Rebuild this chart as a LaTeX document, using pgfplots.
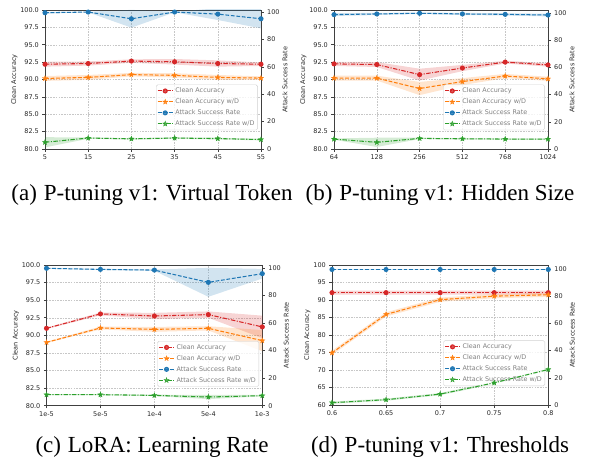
\documentclass[border=0pt]{standalone}
\usepackage{fontspec}
\setmainfont{DejaVu Sans}
\newfontfamily\capfont{Liberation Serif}
\usepackage{pgfplots}
\pgfplotsset{compat=1.18}
\usepackage{pgfplotstable}
\usepgfplotslibrary{fillbetween}

\definecolor{tred}{HTML}{D62728}
\definecolor{torange}{HTML}{FF7F0E}
\definecolor{tblue}{HTML}{1F77B4}
\definecolor{tgreen}{HTML}{2CA02C}

% filled star, like matplotlib's '*'
\pgfdeclareplotmark{fstar}{%
  \pgfpathmoveto{\pgfpointpolar{90}{\pgfplotmarksize}}%
  \pgfpathlineto{\pgfpointpolar{126}{0.42\pgfplotmarksize}}%
  \pgfpathlineto{\pgfpointpolar{162}{\pgfplotmarksize}}%
  \pgfpathlineto{\pgfpointpolar{198}{0.42\pgfplotmarksize}}%
  \pgfpathlineto{\pgfpointpolar{234}{\pgfplotmarksize}}%
  \pgfpathlineto{\pgfpointpolar{270}{0.42\pgfplotmarksize}}%
  \pgfpathlineto{\pgfpointpolar{306}{\pgfplotmarksize}}%
  \pgfpathlineto{\pgfpointpolar{342}{0.42\pgfplotmarksize}}%
  \pgfpathlineto{\pgfpointpolar{18}{\pgfplotmarksize}}%
  \pgfpathlineto{\pgfpointpolar{54}{0.42\pgfplotmarksize}}%
  \pgfpathclose\pgfusepathqfillstroke}

% x, clean acc (mean/lo/hi), clean acc w/D, ASR, ASR w/D
\pgfplotstableread{
x ca calo cahi cd cdlo cdhi as aslo ashi ad adlo adhi
5 92.2 91.85 92.55 90.15 89.8 90.5 99.5 98.8 100.2 4.9 1.2 8.6
15 92.3 92.0 92.6 90.3 89.95 90.65 100.0 99.8 100.2 8.0 7.5 8.5
25 92.65 92.4 92.9 90.7 90.45 90.95 95.1 88.6 101.6 7.4 6.9 7.9
35 92.55 92.15 92.95 90.6 90.3 90.9 100.0 99.8 100.2 8.0 7.5 8.5
45 92.3 91.85 92.75 90.3 89.95 90.65 98.5 94.2 102.8 7.6 7.0 8.2
55 92.2 91.95 92.45 90.2 89.95 90.45 95.1 88.1 102.1 6.9 6.3 7.5
}\tabA
\pgfplotstableread{
x ca calo cahi cd cdlo cdhi as aslo ashi ad adlo adhi
0 92.25 91.95 92.55 90.2 89.85 90.55 98.8 97.8 99.8 7.3 6.8 7.8
1 92.15 91.8 92.5 90.2 89.85 90.55 99.3 98.5 100.1 4.9 1.5 8.3
2 90.7 89.85 91.55 88.7 87.75 89.65 99.8 99.3 100.3 7.8 7.3 8.3
3 91.65 91.2 92.1 89.7 89.2 90.2 99.3 98.5 100.1 7.5 7.0 8.0
4 92.5 92.3 92.7 90.5 90.2 90.8 99.0 98.2 99.8 7.3 6.8 7.8
5 92.1 91.85 92.35 90.1 89.8 90.4 98.5 97.5 99.5 7.3 6.8 7.8
}\tabB
\pgfplotstableread{
x ca calo cahi cd cdlo cdhi as aslo ashi ad adlo adhi
0 91.0 90.9 91.1 89.0 88.9 89.1 99.8 99.5 100.1 8.0 7.6 8.4
1 93.05 92.85 93.25 91.05 90.85 91.25 99.0 98.6 99.4 8.0 7.6 8.4
2 92.75 92.3 93.2 90.85 90.5 91.2 98.5 98.0 99.0 7.5 7.0 8.0
3 92.95 92.5 93.4 91.0 90.7 91.3 89.6 79.1 100.1 6.3 4.8 7.8
4 91.2 89.6 92.8 89.25 87.75 90.75 95.9 92.4 99.4 7.3 6.8 7.8
}\tabC
\pgfplotstableread{
x ca calo cahi cd cdlo cdhi as aslo ashi ad adlo adhi
0.6 92.1 91.55 92.65 74.9 74.3 75.5 99.6 99.3 99.9 1.7 0.9 2.5
0.65 92.1 91.55 92.65 85.9 85.3 86.5 99.6 99.3 99.9 3.9 3.1 4.7
0.7 92.1 91.55 92.65 90.1 89.5 90.7 99.6 99.3 99.9 8.0 7.2 8.8
0.75 92.1 91.55 92.65 91.1 90.5 91.7 99.6 99.3 99.9 16.3 15.5 17.1
0.8 92.1 91.55 92.65 91.5 90.9 92.1 99.6 99.3 99.9 26.1 25.3 26.9
}\tabD

\newcommand{\band}[5]{%
  \addplot[draw=none, name path=#5h, forget plot] table[x=x, y=#3] {#1};
  \addplot[draw=none, name path=#5l, forget plot] table[x=x, y=#2] {#1};
  \addplot[fill=#4, fill opacity=0.2, draw=none, forget plot] fill between[of=#5h and #5l];
}

\pgfplotsset{
  dashdot/.style={dash pattern=on 4.4pt off 1.5pt on 1.1pt off 1.5pt},
  dashd/.style={dash pattern=on 3.8pt off 1.7pt},
  sCA/.style={tred, line width=1.05pt, dashdot, mark=*, mark size=2pt, mark options={solid}},
  sCD/.style={torange, line width=1.05pt, dashd, mark=fstar, mark size=2.7pt, mark options={solid, line width=0.3pt}},
  sAS/.style={tblue, line width=1.05pt, dashd, mark=*, mark size=2pt, mark options={solid}},
  sAD/.style={tgreen, line width=1.05pt, dashdot, mark=fstar, mark size=2.7pt, mark options={solid, line width=0.3pt}},
  common/.style={
    scale only axis, enlargelimits=false,
    tick label style={font=\fontsize{6.5}{7.5}\selectfont, text=black!85},
    label style={font=\fontsize{6.5}{7.5}\selectfont, text=black!85},
    ylabel shift=-4pt,
    tick align=outside, major tick length=2.6pt,
    tick style={black!75, line width=0.55pt},
    axis line style={black!75, line width=0.7pt},
    /pgf/number format/assume math mode=true,
    anchor=south west,
  },
  leftax/.style={
    common, xtick pos=left, ytick pos=left,
    grid=major, grid style={black!22, dash pattern=on 1.6pt off 1.1pt, line width=0.45pt},
    ylabel={Clean Accuracy},
    legend cell align=left,
    legend style={at={(0.985,0.135)}, anchor=south east,
      draw=black!18, rounded corners=1.5pt, fill=white, fill opacity=0.8, text opacity=1,
      text=black!50, font=\fontsize{6.4}{7.5}\selectfont,
      inner sep=1pt, row sep=0.6pt},
    legend image code/.code={%
      \draw[mark repeat=2, mark phase=2] plot coordinates {(0pt,0pt) (7.5pt,0pt) (15pt,0pt)};},
  },
  rightax/.style={
    common, axis x line=none, axis y line*=right,
    ymin=0, ytick={0,20,...,100},
    ylabel={Attack Success Rate},
  },
  pctleft/.style={ymin=80, ymax=100, ytick={80,82.5,...,100},
    yticklabel style={/pgf/number format/.cd, fixed, fixed zerofill, precision=1}},
}

\begin{document}
\begin{tikzpicture}

% (a) virtual tokens
\begin{axis}[leftax, pctleft, at={(45pt,323pt)}, width=216pt, height=139pt,
  xmin=5, xmax=55, xtick={5,15,...,55}]
  \band{\tabA}{calo}{cahi}{tred}{aa}
  \band{\tabA}{cdlo}{cdhi}{torange}{ab}
  \addplot[sCA] table[x=x, y=ca] {\tabA};
  \addplot[sCD] table[x=x, y=cd] {\tabA};
  \addlegendimage{sAS}
  \addlegendimage{sAD}
  \legend{Clean Accuracy, Clean Accuracy w/D, Attack Success Rate, Attack Success Rate w/D}
\end{axis}
\begin{axis}[rightax, at={(45pt,323pt)}, width=216pt, height=139pt,
  xmin=5, xmax=55, ymax=101.5]
  \band{\tabA}{aslo}{ashi}{tblue}{ac}
  \band{\tabA}{adlo}{adhi}{tgreen}{ad}
  \addplot[sAS] table[x=x, y=as] {\tabA};
  \addplot[sAD] table[x=x, y=ad] {\tabA};
\end{axis}

% (b) hidden size
\begin{axis}[leftax, pctleft, at={(334pt,323pt)}, width=214pt, height=139pt,
  xmin=0, xmax=5, xtick={0,...,5}, xticklabels={64,128,256,512,768,1024}]
  \band{\tabB}{calo}{cahi}{tred}{ba}
  \band{\tabB}{cdlo}{cdhi}{torange}{bb}
  \addplot[sCA] table[x=x, y=ca] {\tabB};
  \addplot[sCD] table[x=x, y=cd] {\tabB};
  \addlegendimage{sAS}
  \addlegendimage{sAD}
  \legend{Clean Accuracy, Clean Accuracy w/D, Attack Success Rate, Attack Success Rate w/D}
\end{axis}
\begin{axis}[rightax, at={(334pt,323pt)}, width=214pt, height=139pt,
  xmin=0, xmax=5, ymax=102.2]
  \band{\tabB}{aslo}{ashi}{tblue}{bc}
  \band{\tabB}{adlo}{adhi}{tgreen}{bd}
  \addplot[sAS] table[x=x, y=as] {\tabB};
  \addplot[sAD] table[x=x, y=ad] {\tabB};
\end{axis}

% (c) learning rate
\begin{axis}[leftax, pctleft, at={(46.5pt,66.3pt)}, width=215.8pt, height=140.7pt,
  xmin=0, xmax=4, xtick={0,...,4}, xticklabels={1e-5,5e-5,1e-4,5e-4,1e-3}]
  \band{\tabC}{calo}{cahi}{tred}{ca}
  \band{\tabC}{cdlo}{cdhi}{torange}{cb}
  \addplot[sCA] table[x=x, y=ca] {\tabC};
  \addplot[sCD] table[x=x, y=cd] {\tabC};
  \addlegendimage{sAS}
  \addlegendimage{sAD}
  \legend{Clean Accuracy, Clean Accuracy w/D, Attack Success Rate, Attack Success Rate w/D}
\end{axis}
\begin{axis}[rightax, at={(46.5pt,66.3pt)}, width=215.8pt, height=140.7pt,
  xmin=0, xmax=4, ymax=102.2]
  \band{\tabC}{aslo}{ashi}{tblue}{cc}
  \band{\tabC}{adlo}{adhi}{tgreen}{cd}
  \addplot[sAS] table[x=x, y=as] {\tabC};
  \addplot[sAD] table[x=x, y=ad] {\tabC};
\end{axis}

% (d) thresholds
\begin{axis}[leftax, at={(332pt,67pt)}, width=216.3pt, height=140pt,
  ymin=60, ymax=100, ytick={60,65,...,100},
  xmin=0.6, xmax=0.8, xtick={0.6,0.65,0.7,0.75,0.8}, xticklabels={0.6,0.65,0.7,0.75,0.8}]
  \band{\tabD}{calo}{cahi}{tred}{da}
  \band{\tabD}{cdlo}{cdhi}{torange}{db}
  \addplot[sCA] table[x=x, y=ca] {\tabD};
  \addplot[sCD] table[x=x, y=cd] {\tabD};
  \addlegendimage{sAS}
  \addlegendimage{sAD}
  \legend{Clean Accuracy, Clean Accuracy w/D, Attack Success Rate, Attack Success Rate w/D}
\end{axis}
\begin{axis}[rightax, at={(332pt,67pt)}, width=216.3pt, height=140pt,
  xmin=0.6, xmax=0.8, ymax=102.9]
  \band{\tabD}{aslo}{ashi}{tblue}{dc}
  \band{\tabD}{adlo}{adhi}{tgreen}{dd}
  \addplot[sAS] table[x=x, y=as] {\tabD};
  \addplot[sAD] table[x=x, y=ad] {\tabD};
\end{axis}

% sub-captions
\node[font=\capfont\fontsize{23}{26}\selectfont] at (152pt,277pt) {(a)\hspace{0.3em}P-tuning v1: Virtual Token};
\node[font=\capfont\fontsize{23}{26}\selectfont] at (440pt,277pt) {(b)\hspace{0.3em}P-tuning v1: Hidden Size};
\node[font=\capfont\fontsize{23}{26}\selectfont] at (152pt,25pt) {(c)\hspace{0.3em}LoRA: Learning Rate};
\node[font=\capfont\fontsize{23}{26}\selectfont] at (440pt,25pt) {(d)\hspace{0.3em}P-tuning v1: Thresholds};
\path (0pt,0pt) rectangle (592pt,472pt);
\end{tikzpicture}
\end{document}
